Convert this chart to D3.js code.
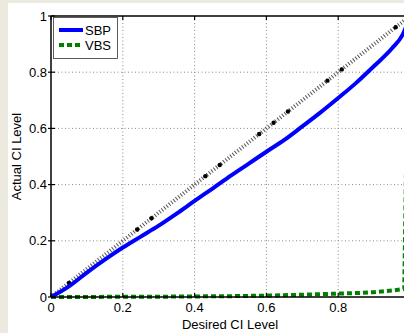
<!DOCTYPE html>
<html>
<head>
<meta charset="utf-8">
<script src="https://cdn.jsdelivr.net/npm/d3@7/dist/d3.min.js"></script>
<style>
  html, body { margin: 0; padding: 0; background: #ece9df; }
  svg { display: block; }
  text { font-family: "Liberation Sans", Arial, Helvetica, sans-serif; fill: #000; }
</style>
</head>
<body>
<svg id="chart" width="404" height="333"></svg>
<script>
// Desired confidence level (x) against the actual coverage reached (y)
const sbpLevels = [0, 0.05, 0.1, 0.15, 0.2, 0.25, 0.3, 0.35, 0.4, 0.45, 0.5, 0.55, 0.6, 0.65, 0.7, 0.75, 0.8, 0.85, 0.9, 0.95, 0.98, 1];
const sbpActual = [0, 0.038, 0.087, 0.133, 0.176, 0.215, 0.254, 0.297, 0.342, 0.386, 0.431, 0.474, 0.517, 0.559, 0.607, 0.656, 0.708, 0.762, 0.822, 0.885, 0.935, 1];

const vbsLevels = [0, 0.1, 0.2, 0.3, 0.4, 0.5, 0.6, 0.7, 0.8, 0.85, 0.9, 0.95, 0.984, 0.995, 1];
const vbsActual = [0, 0, 0.001, 0.001, 0.002, 0.003, 0.005, 0.008, 0.012, 0.014, 0.017, 0.023, 0.029, 0.99, 1];

// Markers placed along the ideal diagonal
const refMarks = [0.05, 0.24, 0.28, 0.43, 0.47, 0.58, 0.62, 0.66, 0.77, 0.81, 0.96];

const xTicks = [0, 0.2, 0.4, 0.6, 0.8];
const yTicks = [0, 0.2, 0.4, 0.6, 0.8, 1];
const seriesNames = ["SBP", "VBS"];

const svg = d3.select("#chart");

// white figure area
svg.append("rect").attr("x", 8).attr("y", 3).attr("width", 396).attr("height", 330).attr("fill", "#fff");

const x = d3.scaleLinear().domain([0, 1]).range([51, 410]);
const y = d3.scaleLinear().domain([0, 1]).range([297, 16]);

// dotted grid
const grid = svg.append("g").attr("stroke", "#8a8a8a").attr("stroke-width", 1).attr("stroke-dasharray", "1,2.5");
xTicks.filter(d => d > 0).forEach(d => {
  grid.append("line").attr("x1", x(d)).attr("x2", x(d)).attr("y1", y(0)).attr("y2", y(1));
});
yTicks.filter(d => d > 0 && d < 1).forEach(d => {
  grid.append("line").attr("x1", x(0)).attr("x2", x(1)).attr("y1", y(d)).attr("y2", y(d));
});

// ideal diagonal
svg.append("line")
  .attr("x1", x(0)).attr("y1", y(0)).attr("x2", x(1)).attr("y2", y(1))
  .attr("stroke", "#555").attr("stroke-width", 4).attr("stroke-dasharray", "1,2");
svg.append("g").selectAll("circle").data(refMarks).join("circle")
  .attr("cx", d => x(d)).attr("cy", d => y(d)).attr("r", 2.2).attr("fill", "#000");

const line = d3.line().x(d => x(d[0])).y(d => y(d[1]));
const smooth = d3.line().curve(d3.curveMonotoneX).x(d => x(d[0])).y(d => y(d[1]));

// VBS
svg.append("path")
  .attr("d", line(d3.zip(vbsLevels, vbsActual)))
  .attr("fill", "none").attr("stroke", "#008000").attr("stroke-width", 4)
  .attr("stroke-dasharray", "5,3");

// SBP
svg.append("path")
  .attr("d", smooth(d3.zip(sbpLevels, sbpActual)))
  .attr("fill", "none").attr("stroke", "#0000ff").attr("stroke-width", 4)
  .attr("stroke-linejoin", "round");

// axes frame
const frame = svg.append("g").attr("stroke", "#000").attr("stroke-width", 1.5);
frame.append("line").attr("x1", x(0)).attr("x2", x(0)).attr("y1", y(0)).attr("y2", y(1));
frame.append("line").attr("x1", x(0)).attr("x2", 404).attr("y1", y(0)).attr("y2", y(0));
frame.append("line").attr("x1", x(0)).attr("x2", 404).attr("y1", y(1)).attr("y2", y(1));

// ticks
const tk = svg.append("g").attr("stroke", "#000").attr("stroke-width", 1.2);
xTicks.forEach(d => {
  tk.append("line").attr("x1", x(d)).attr("x2", x(d)).attr("y1", y(0)).attr("y2", y(0) - 4);
  tk.append("line").attr("x1", x(d)).attr("x2", x(d)).attr("y1", y(1)).attr("y2", y(1) + 4);
});
yTicks.forEach(d => {
  tk.append("line").attr("x1", x(0) - 3).attr("x2", x(0) + 4).attr("y1", y(d)).attr("y2", y(d));
});

// tick labels
svg.append("g").selectAll("text").data(xTicks).join("text")
  .attr("x", d => x(d)).attr("y", y(0) + 15)
  .attr("text-anchor", "middle").attr("font-size", 13)
  .text(d => d === 0 ? "0" : d3.format(".1f")(d));
svg.append("g").selectAll("text").data(yTicks).join("text")
  .attr("x", x(0) - 4).attr("y", d => y(d) + 4.5)
  .attr("text-anchor", "end").attr("font-size", 13)
  .text(d => (d === 0 || d === 1) ? String(d) : d3.format(".1f")(d));

// axis titles
svg.append("text").attr("x", 230).attr("y", 329).attr("text-anchor", "middle").attr("font-size", 13)
  .text("Desired CI Level");
svg.append("text").attr("transform", `translate(21,${(y(0) + y(1)) / 2}) rotate(-90)`)
  .attr("text-anchor", "middle").attr("font-size", 13).text("Actual CI Level");

// legend
const lg = svg.append("g");
lg.append("rect").attr("x", 53.5).attr("y", 17.5).attr("width", 64).attr("height", 41)
  .attr("fill", "#fff").attr("stroke", "#333").attr("stroke-width", 0.8);
lg.append("line").attr("x1", 59).attr("x2", 83).attr("y1", 30).attr("y2", 30)
  .attr("stroke", "#0000ff").attr("stroke-width", 4);
lg.append("line").attr("x1", 59).attr("x2", 83).attr("y1", 45).attr("y2", 45)
  .attr("stroke", "#008000").attr("stroke-width", 4).attr("stroke-dasharray", "5,3");
lg.selectAll("text").data(seriesNames).join("text")
  .attr("x", 85).attr("y", (d, i) => 35 + i * 15).attr("font-size", 13).text(d => d);
</script>
</body>
</html>
